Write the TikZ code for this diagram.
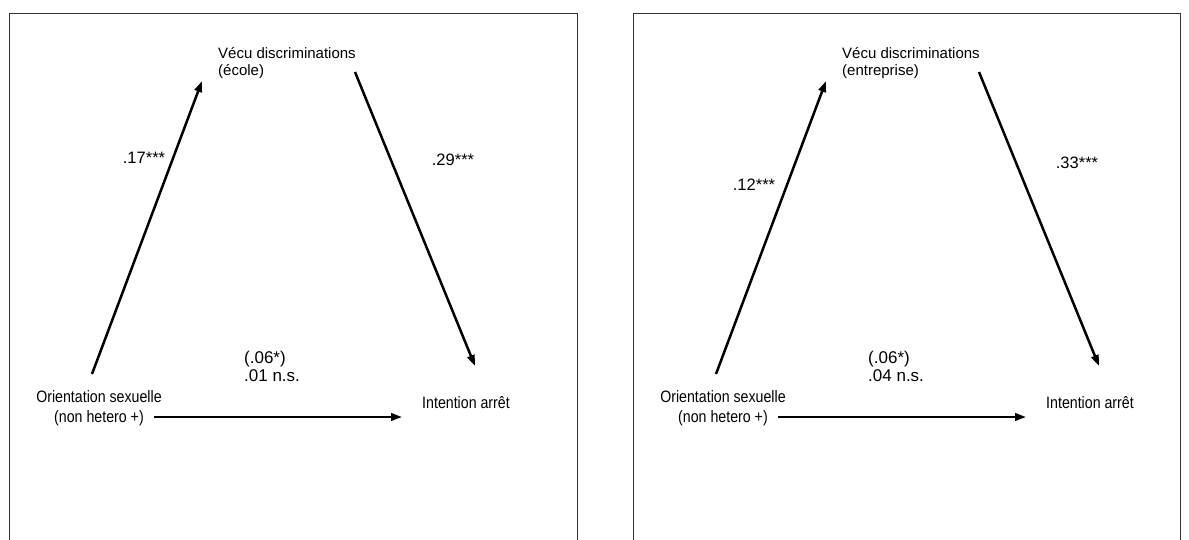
\documentclass[tikz,border=0pt]{standalone}
\usepackage{fontspec}
\setmainfont{Liberation Sans}
\newfontfamily\narrowsans{Liberation Sans}[FakeStretch=0.86]
\usetikzlibrary{arrows.meta,calc}

\begin{document}
\begin{tikzpicture}[
  x=1pt, y=-1pt,
  >={Triangle[length=11pt, width=7.5pt]},
  frame/.style={draw=black!80, line width=1pt},
  construct/.style={inner sep=0pt, align=center, font=\narrowsans\fontsize{16.5}{20}\selectfont},
  mediator/.style={inner sep=0pt, anchor=west, align=left, font=\fontsize{15}{16.5}\selectfont},
  coef/.style={inner sep=0pt, font=\fontsize{16.5}{18}\selectfont},
  directlab/.style={inner sep=0pt, anchor=west, align=left, font=\fontsize{17}{18}\selectfont},
  path/.style={->, line width=2.5pt}
]
\useasboundingbox (0,0) rectangle (1189,540);

% Frames of the two panels, open at the bottom
\draw[frame] (9,540) -- (9,14) -- (577,14) -- (577,540);
\draw[frame] (633,540) -- (633,14) -- (1180,14) -- (1180,540);

% One mediation model per panel
\foreach \i/\dx/\setting/\ab/\abx/\aby/\bc/\bcy/\direct in {1/0/école/.17/144/158/.29/160/.01, 2/624/entreprise/.12/130/185/.33/163/.04}{
  \node[construct] (orient\i) at ({99+\dx},408) {Orientation sexuelle\\(non hetero +)};
  \node[construct] (arret\i) at ({466+\dx},403) {Intention arrêt};
  \node[mediator] (disc\i) at ({218+\dx},63) {Vécu discriminations\\(\setting)};
  \node[directlab] (direct\i) at ({244+\dx},366) {(.06*)\\\direct{} n.s.};
  \node[coef] (ab\i) at ({\abx+\dx},\aby) {\ab***};
  \node[coef] (bc\i) at ({453+\dx},\bcy) {\bc***};
  \draw[path] ($(orient\i)+(-7,-34)$) -- ($(disc\i.west)+(-16,18)$);
  \draw[path] ($(disc\i.west)+(137,9)$) -- ($(arret\i)+(9,-37)$);
  \draw[path] ($(orient\i)+(55,9)$) -- ($(arret\i)+(-64,14)$);
}

\end{tikzpicture}
\end{document}
